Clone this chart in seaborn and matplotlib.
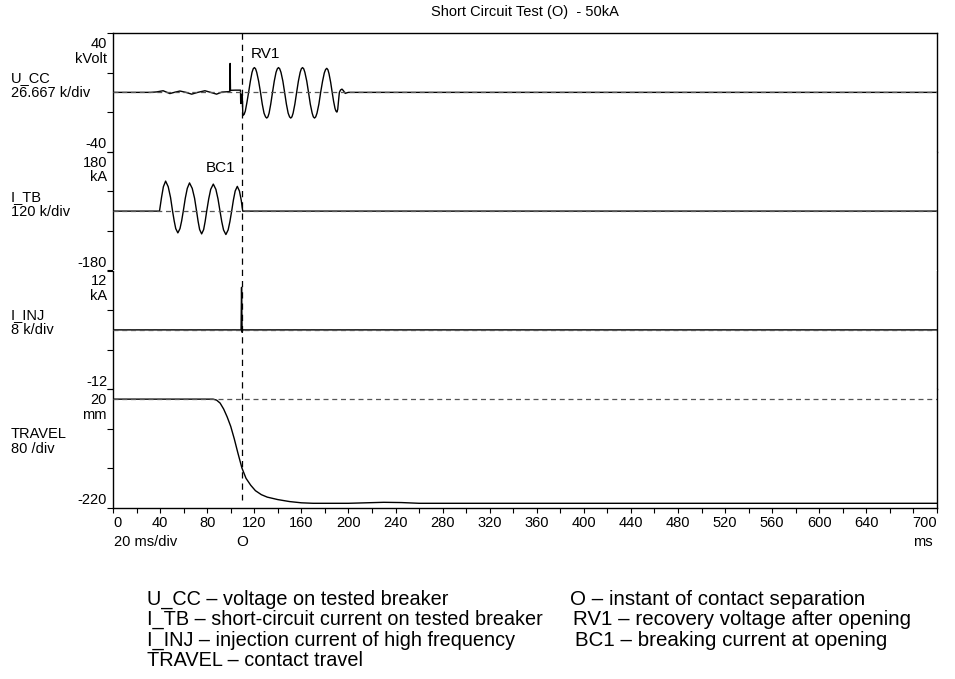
import matplotlib
matplotlib.use("Agg")
import matplotlib.pyplot as plt
import matplotlib.transforms as mtransforms
import numpy as np
import pandas as pd
import seaborn as sns

# ---------------------------------------------------------------- data
# U_CC: voltage across the tested breaker (kV) vs time (ms)
ucc_t = [0, 32, 37, 42.6, 48.3, 53, 56.9, 62, 66.8, 72,
         78.1, 83, 88, 92.5, 96.6, 99.3, 99.5, 99.8, 104, 108.3,
         108.5, 108.9, 109.3, 109.8, 110.3, 111.4, 112.4, 113.7, 115.2, 116.7,
         118.1, 119.1, 120.1, 121.1, 122.1, 123.7, 125.3, 126.8, 128.3, 129.6,
         130.6, 131.6, 132.6, 134.0, 135.5, 137.0, 138.5, 139.6, 140.6, 141.6,
         142.7, 144.3, 145.8, 147.3, 148.8, 150.0, 151.0, 152.0, 153.0, 154.5,
         156.0, 157.5, 159.0, 160.0, 161.0, 162.0, 163.0, 164.6, 166.1, 167.6,
         169.2, 170.2, 171.2, 172.2, 173.3, 174.9, 176.4, 178.0, 179.5, 180.6,
         181.6, 182.6, 183.5, 184.9, 186.2, 187.4, 188.6, 189.4, 190.2, 190.9,
         191.5, 192.3, 193.3, 194.5, 195.7, 197.3, 199.0, 200.0, 700]
ucc_kv = [0, 0, 0.3, 1.1, -0.8, 0.2, 0.9, 0.0, -1.2, 0.0,
          1.1, 0.0, -1.2, 0.2, 0.4, 0.6, 19.5, 1.4, 1.5, 1.5,
          -7.5, -2.0, -7.0, -1.0, -15.6, -14.8, -12.6, -7.1, 0.0, 7.6,
          13.5, 15.9, 16.7, 15.9, 13.5, 7.6, 0.0, -7.9, -14.0, -16.5,
          -17.3, -16.5, -14.0, -7.9, 0.0, 7.6, 13.5, 15.9, 16.7, 15.9,
          13.5, 7.6, 0.0, -7.9, -14.0, -16.5, -17.3, -16.5, -14.0, -7.9,
          0.0, 7.6, 13.5, 15.9, 16.7, 15.9, 13.5, 7.6, 0.0, -7.9,
          -14.0, -16.5, -17.3, -16.5, -14.0, -7.9, 0.0, 7.4, 13.1, 15.4,
          16.2, 15.2, 12.6, 6.8, 0.0, -6.0, -10.8, -12.6, -13.3, -11.5,
          -6.5, 0.0, 1.6, 2.2, 1.2, -0.7, -0.2, 0.0, 0.0]

# I_TB: short-circuit current through the tested breaker (kA)
itb_t = [0, 39.5, 41.2, 42.8, 44.7, 46.9, 48.9, 50.6, 52.0, 53.3,
         55.1, 56.9, 58.3, 59.7, 61.4, 63.1, 65.0, 67.3, 69.3, 71.0,
         72.3, 73.6, 75.3, 77.0, 78.3, 79.6, 81.3, 83.0, 85.2, 87.4,
         89.2, 90.9, 92.4, 93.9, 95.9, 97.8, 99.3, 100.8, 102.3, 103.8,
         105.6, 107.4, 108.9, 110.2, 700]
itb_ka = [0, 0, 41, 74, 91, 74, 41, 0, -30, -53,
          -66, -53, -30, 0, 39, 69, 85.5, 69, 39, 0,
          -31, -56, -69, -56, -31, 0, 37, 66, 82, 66,
          37, 0, -32, -57, -71, -57, -32, 0, 34, 61,
          75, 61, 34, 0, 0]

# I_INJ: high-frequency injection current (kA)
iinj_t = [0, 108.8, 109.2, 109.7, 110.2, 700]
iinj_ka = [0, 0, 8.6, -0.5, 0, 0]

# TRAVEL: contact travel (mm)
travel_t = [0, 85, 88, 91, 94, 97, 100, 103, 106, 109.5,
            113, 117, 121, 126, 131, 140, 150, 160, 170, 200,
            215, 230, 245, 260, 700]
travel_mm = [0, 0, -2, -8, -20, -36, -55, -80, -108, -139,
             -160, -174, -185, -193, -198, -203, -207, -209.5, -210.5, -210.5,
             -209.5, -208.5, -209, -210.5, -210.5]

# channel descriptions
channel_names = ["U_CC", "I_TB", "I_INJ", "TRAVEL"]
channel_scales = ["26.667 k/div", "120 k/div", "8 k/div", "80 /div"]
channel_units = ["kVolt", "kA", "kA", "mm"]
channel_top = [40, 180, 12, 20]
channel_bottom = [-40, -180, -12, -220]

# time axis
time_max = 700
time_tick_step = 20
time_labels = [0, 40, 80, 120, 160, 200, 240, 280, 320, 360, 400, 440, 480,
               520, 560, 600, 640, 700]
contact_separation_ms = 110

title = "Short Circuit Test (O)  - 50kA"
legend_left = ["U_CC \u2013 voltage on tested breaker",
               "I_TB \u2013 short-circuit current on tested breaker",
               "I_INJ \u2013 injection current of high frequency",
               "TRAVEL \u2013 contact travel"]
legend_right = ["O \u2013 instant of contact separation",
                "RV1 \u2013 recovery voltage after opening",
                "BC1 \u2013 breaking current at opening"]

# ---------------------------------------------------------------- style
sns.set_style("white")
plt.rcParams["font.family"] = ["Liberation Sans", "DejaVu Sans"]
plt.rcParams["text.color"] = "black"
plt.rcParams["xtick.color"] = "black"
plt.rcParams["ytick.color"] = "black"
SMALL = 10.5
BIG_L = 14.3
BIG_R = 14.8

W_PX, H_PX = 955, 679
fig = plt.figure(figsize=(W_PX / 100, H_PX / 100), dpi=100)


def fx(px):
    return px / W_PX


def fy(py):
    return 1 - py / H_PX


def shift(dx, dy):
    return mtransforms.ScaledTranslation(dx / 100, -dy / 100, fig.dpi_scale_trans)


FRAME_L, FRAME_R, FRAME_T, FRAME_B = 113, 937, 33, 508
panel_h = (FRAME_B - FRAME_T) / 4

series = [(ucc_t, ucc_kv), (itb_t, itb_ka), (iinj_t, iinj_ka), (travel_t, travel_mm)]
axes = []
for i in range(4):
    top_px = FRAME_T + i * panel_h
    ax = fig.add_axes([fx(FRAME_L), fy(top_px + panel_h),
                       fx(FRAME_R) - fx(FRAME_L), panel_h / H_PX])
    axes.append(ax)
    t, v = series[i]
    df = pd.DataFrame({"t": t, "v": v})
    ax.axhline(0, color="#555555", lw=0.9, ls=(0, (4, 3)), zorder=3)
    sns.lineplot(data=df, x="t", y="v", ax=ax, color="black", lw=1.0,
                 estimator=None, sort=False, legend=False, zorder=2)
    ax.set_xlim(0, time_max)
    ax.set_ylim(channel_bottom[i], channel_top[i])
    ax.set_xlabel("")
    ax.set_ylabel("")
    ax.set_facecolor("white")
    for side, sp in ax.spines.items():
        sp.set_color("black")
        sp.set_linewidth(1.0)
    if i > 0:
        ax.spines["top"].set_visible(False)
    if i < 3:
        ax.spines["bottom"].set_visible(False)

    # three divisions per channel
    ax.set_yticks(np.linspace(channel_bottom[i], channel_top[i], 4))
    ax.tick_params(axis="y", which="both", left=True, direction="out",
                   length=4.5, width=0.8, color="black", labelleft=False)

    # range labels beside the frame
    ax.text(0, 1, f"{channel_top[i]}\n{channel_units[i]}",
            transform=ax.transAxes + shift(-6, 4), ha="right", va="top",
            fontsize=SMALL, multialignment="right", linespacing=1.05)
    ax.text(0, 0, f"{channel_bottom[i]}",
            transform=ax.transAxes + shift(-6, -0.5), ha="right", va="bottom",
            fontsize=SMALL)

    # channel name and scale
    mid_px = top_px + panel_h / 2
    fig.text(fx(11), fy(mid_px - 10.5), channel_names[i],
             ha="left", va="baseline", fontsize=SMALL)
    fig.text(fx(11), fy(mid_px + 4.5), channel_scales[i],
             ha="left", va="baseline", fontsize=SMALL)

    if i < 3:
        ax.tick_params(axis="x", bottom=False, labelbottom=False)

# time axis on the bottom panel
ax_b = axes[-1]
ticks = list(range(0, time_max + 1, time_tick_step))
ax_b.set_xticks(ticks, labels=[str(v) if v in time_labels else "" for v in ticks])
ax_b.tick_params(axis="x", bottom=True, direction="out", length=3.5, width=0.8,
                 pad=2.5, labelsize=SMALL, color="black")
lbls = ax_b.get_xticklabels()
lbls[0].set_ha("left")
lbls[-1].set_ha("right")

fig.text(fx(114), fy(542), "20 ms/div", ha="left", va="center", fontsize=SMALL)
fig.text(fx(933), fy(542), "ms", ha="right", va="center", fontsize=SMALL)
blend = mtransforms.blended_transform_factory(ax_b.transData, fig.transFigure)
fig.text(contact_separation_ms, fy(542), "O", transform=blend,
         ha="center", va="center", fontsize=SMALL + 0.5)

# contact separation marker through all channels
ax_b.plot([contact_separation_ms, contact_separation_ms], [fy(FRAME_T), fy(500)],
          transform=blend, color="black", lw=0.9, ls=(0, (5, 4)), clip_on=False,
          zorder=5)

# event labels
fig.text(fx(251), fy(57.5), "RV1", ha="left", va="baseline", fontsize=SMALL + 0.5)
fig.text(fx(235), fy(172.5), "BC1", ha="right", va="baseline", fontsize=SMALL + 0.5)

fig.text(fx(525), fy(12), title, ha="center", va="center", fontsize=SMALL)

# legend
for k, line in enumerate(legend_left):
    fig.text(fx(147), fy(604.5 + k * 20.4), line, ha="left", va="baseline",
             fontsize=BIG_L)
right_x = [570, 573, 575]
for k, line in enumerate(legend_right):
    fig.text(fx(right_x[k]), fy(604.8 + k * 20.4), line, ha="left",
             va="baseline", fontsize=BIG_R)

fig.savefig("out.png", dpi=100, facecolor="white")
